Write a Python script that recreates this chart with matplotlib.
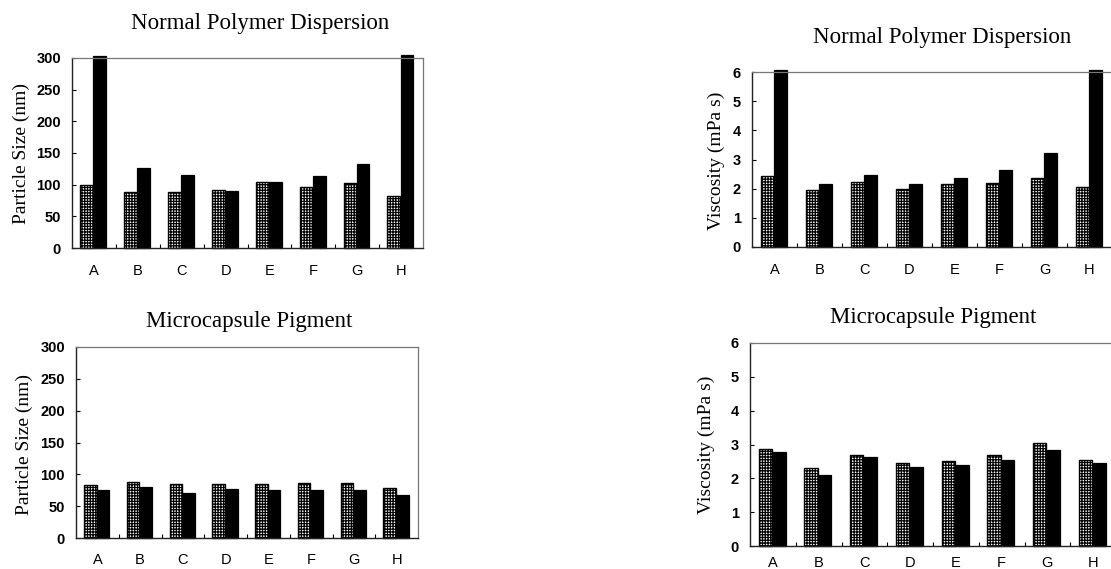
import matplotlib
matplotlib.use("Agg")
import matplotlib.pyplot as plt
import numpy as np

categories = ["A", "B", "C", "D", "E", "F", "G", "H"]

# Particle size (nm) - Normal Polymer Dispersion
size_npd_dot = [100, 89, 88, 91, 105, 97, 102, 82]
size_npd_black = [303, 126, 115, 90, 104, 114, 132, 305]
# Viscosity (mPa s) - Normal Polymer Dispersion
visc_npd_dot = [2.45, 1.97, 2.24, 1.99, 2.17, 2.19, 2.35, 2.06]
visc_npd_black = [6.06, 2.17, 2.48, 2.17, 2.37, 2.65, 3.23, 6.08]
# Particle size (nm) - Microcapsule Pigment
size_mcp_dot = [84, 88, 85, 85, 85, 87, 86, 79]
size_mcp_black = [75, 80, 70, 77, 75, 76, 75, 68]
# Viscosity (mPa s) - Microcapsule Pigment
visc_mcp_dot = [2.87, 2.32, 2.70, 2.45, 2.51, 2.69, 3.03, 2.54]
visc_mcp_black = [2.77, 2.09, 2.63, 2.34, 2.40, 2.53, 2.83, 2.44]

W, H = 1111, 569
fig = plt.figure(figsize=(W / 100, H / 100), dpi=100)
plt.rcParams['hatch.linewidth'] = 0.9
plt.rcParams['hatch.color'] = '#111111'

def px_axes(left, right, top, bottom):
    return fig.add_axes([left / W, (H - bottom) / H, (right - left) / W, (bottom - top) / H])

panels = [
    dict(box=(72, 423, 58, 248), dot=size_npd_dot, blk=size_npd_black, ymax=300,
         yticks=[0, 50, 100, 150, 200, 250, 300], ylabel="Particle Size (nm)",
         lab=(-0.12, 0.5), title="Normal Polymer Dispersion", tpos=(260, 23), xpad=11.5),
    dict(box=(752, 1112, 72, 247), dot=visc_npd_dot, blk=visc_npd_black, ymax=6,
         yticks=[0, 1, 2, 3, 4, 5, 6], ylabel="Viscosity (mPa s)",
         lab=(-0.075, 0.49), title="Normal Polymer Dispersion", tpos=(942, 37), xpad=11.5),
    dict(box=(76, 418, 347, 538), dot=size_mcp_dot, blk=size_mcp_black, ymax=300,
         yticks=[0, 50, 100, 150, 200, 250, 300], ylabel="Particle Size (nm)",
         lab=(-0.126, 0.49), title="Microcapsule Pigment", tpos=(249, 322), xpad=10.5),
    dict(box=(750, 1116, 343, 546), dot=visc_mcp_dot, blk=visc_mcp_black, ymax=6,
         yticks=[0, 1, 2, 3, 4, 5, 6], ylabel="Viscosity (mPa s)",
         lab=(-0.096, 0.5), title="Microcapsule Pigment", tpos=(933, 318), xpad=7.0),
]

bw = 0.29
x = np.arange(len(categories))
for p in panels:
    ax = px_axes(*p["box"])
    ax.bar(x - 0.02 - bw / 2, p["dot"], width=bw, facecolor="white", edgecolor="black",
           hatch="++++++", linewidth=1.0, clip_on=False)
    ax.bar(x - 0.01 + bw / 2, p["blk"], width=bw, facecolor="black", edgecolor="black",
           linewidth=0.9, clip_on=False)
    ax.set_xlim(-0.5, len(categories) - 0.5)
    ax.set_ylim(0, p["ymax"])
    ax.set_xticks(x)
    ax.set_xticklabels(categories, fontfamily="Liberation Sans", fontsize=10.5)
    ax.set_xticks(np.arange(0.5, len(categories) - 0.5, 1.0), minor=True)
    ax.tick_params(axis="x", which="major", length=0, pad=p["xpad"])
    ax.tick_params(axis="x", which="minor", direction="in", length=3, width=0.8)
    ax.set_yticks(p["yticks"])
    ax.set_yticklabels([str(v) for v in p["yticks"]], fontfamily="Liberation Sans",
                       fontsize=10.5, fontweight="bold")
    ax.tick_params(axis="y", direction="in", length=3, width=0.8, pad=8)
    for s in ["left", "bottom"]:
        ax.spines[s].set_color("#222222")
        ax.spines[s].set_linewidth(1.0)
    for s in ["top", "right"]:
        ax.spines[s].set_color("#777777")
        ax.spines[s].set_linewidth(0.9)
    ax.set_ylabel(p["ylabel"], fontfamily="Liberation Serif", fontsize=14)
    ax.yaxis.set_label_coords(*p["lab"])
    fig.text(p["tpos"][0] / W, 1 - p["tpos"][1] / H, p["title"], ha="center", va="center",
             fontfamily="Liberation Serif", fontsize=16.5)

fig.savefig("out.png", dpi=100)
